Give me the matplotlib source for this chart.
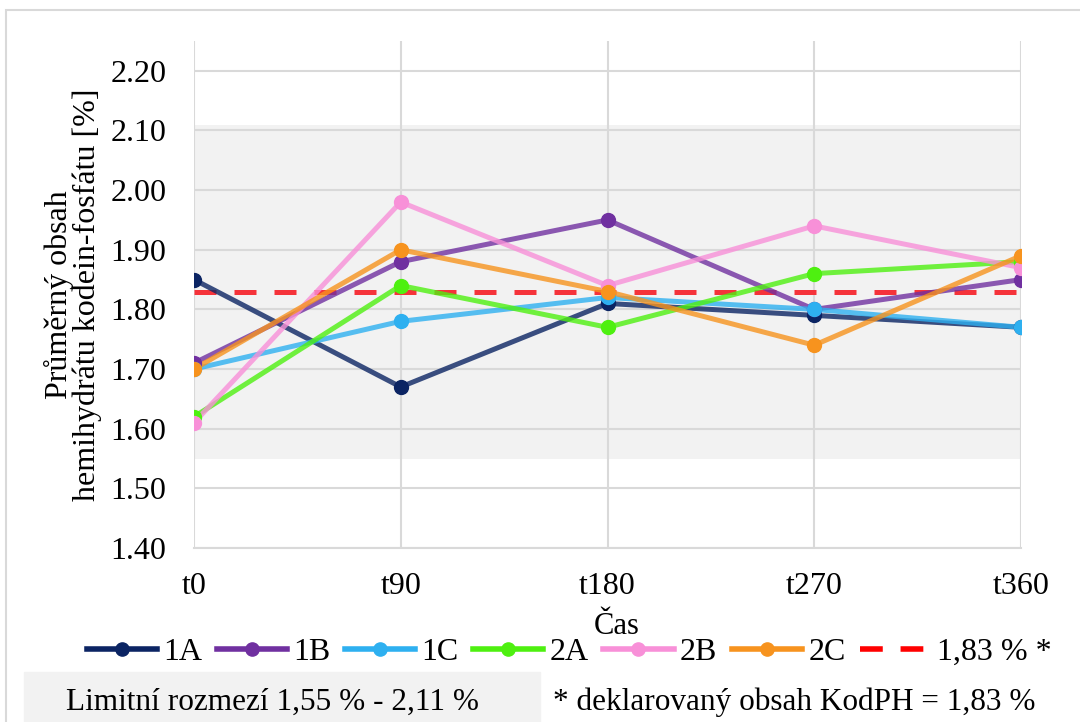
import matplotlib
matplotlib.use('Agg')
import matplotlib.pyplot as plt
from matplotlib.lines import Line2D
from matplotlib.patches import Rectangle

plt.rcParams['font.family'] = ['Liberation Serif', 'DejaVu Serif']

# data
casy = ['t0', 't90', 't180', 't270', 't360']
vzorky = ['1A', '1B', '1C', '2A', '2B', '2C']
obsah_1A = [1.85, 1.67, 1.81, 1.79, 1.77]
obsah_1B = [1.71, 1.88, 1.95, 1.80, 1.85]
obsah_1C = [1.70, 1.78, 1.82, 1.80, 1.77]
obsah_2A = [1.62, 1.84, 1.77, 1.86, 1.88]
obsah_2B = [1.61, 1.98, 1.84, 1.94, 1.87]
obsah_2C = [1.70, 1.90, 1.83, 1.74, 1.89]
barvy = ['#0B2463', '#7030A0', '#2EB0F0', '#4EF010', '#F890D8', '#F7931E']
deklarovany = 1.83
limit_dolni = 1.55
limit_horni = 2.11
y_ticks = [1.40, 1.50, 1.60, 1.70, 1.80, 1.90, 2.00, 2.10, 2.20]

serie = [obsah_1A, obsah_1B, obsah_1C, obsah_2A, obsah_2B, obsah_2C]
x = list(range(len(casy)))

W, H = 1080, 722
fig = plt.figure(figsize=(W / 100, H / 100), dpi=100)
ax = fig.add_axes([194 / W, 1 - 548 / H, 827 / W, 507 / H])

# limit band
ax.fill_between(x, limit_dolni, limit_horni, color='#F2F2F2', lw=0, zorder=0)

# declared content
ax.plot(x, [deklarovany] * len(x), color='#F5333A', lw=3.6,
        linestyle=(0, (4.4, 3.6)), zorder=2)

for vals, c in zip(serie, barvy):
    ax.plot(x, vals, color=c, lw=3.6, alpha=0.8, zorder=3, solid_capstyle='round')
    ax.plot(x, vals, color=c, linestyle='none', marker='o', ms=10, zorder=4)

ax.set_xlim(0, 4)
ax.set_ylim(1.40, 2.25)
ax.set_xticks(x)
ax.set_xticklabels(casy)
ax.set_yticks(y_ticks)
ax.set_yticklabels(['%.2f' % v for v in y_ticks])
ax.set_axisbelow(True)
ax.grid(True, color='#D9D9D9', lw=1.5)
for s in ['top', 'right', 'left']:
    ax.spines[s].set_visible(False)
ax.spines['bottom'].set_color('#D9D9D9')
ax.spines['bottom'].set_linewidth(1.5)
ax.tick_params(axis='both', length=0, labelsize=23)
ax.tick_params(axis='y', pad=20)
ax.tick_params(axis='x', pad=17)

fig.text(73 / W, 1 - 295 / H, 'Průměrný obsah\nhemihydrátu kodein-fosfátu [%]',
         rotation=90, ha='center', va='center', multialignment='center',
         fontsize=23, linespacing=0.95)
fig.text(617 / W, 1 - 627 / H, 'Čas', ha='center', va='center', fontsize=22)

handles = [Line2D([], [], color=c, lw=4, marker='o', ms=9.5) for c in barvy]
handles.append(Line2D([], [], color='#FF0000', lw=4, linestyle=(0, (4.1, 3.2))))
labels = vzorky + ['1,83 % *']
fig.legend(handles, labels, loc='center', bbox_to_anchor=(569 / W, 1 - 652 / H),
           ncol=7, frameon=False, fontsize=23, handlelength=2.2,
           handletextpad=0.2, columnspacing=0.45, borderaxespad=0, borderpad=0)

# notes below the chart
fig.patches.append(Rectangle((24 / W, 0), (540 - 24) / W, (722 - 672) / H,
                             transform=fig.transFigure, color='#F2F2F2', zorder=0))
fig.text(273 / W, 1 - 702 / H, 'Limitní rozmezí 1,55 % - 2,11 %',
         ha='center', va='center', fontsize=22.5)
fig.text(553 / W, 1 - 702 / H, '* deklarovaný obsah KodPH = 1,83 %',
         ha='left', va='center', fontsize=22.5)

# chart frame
fig.patches.append(Rectangle((6 / W, -0.1), 1.2, (722 - 10) / H + 0.1,
                             transform=fig.transFigure, fill=False,
                             edgecolor='#D9D9D9', lw=1.5))

fig.savefig('out.png', dpi=100)
